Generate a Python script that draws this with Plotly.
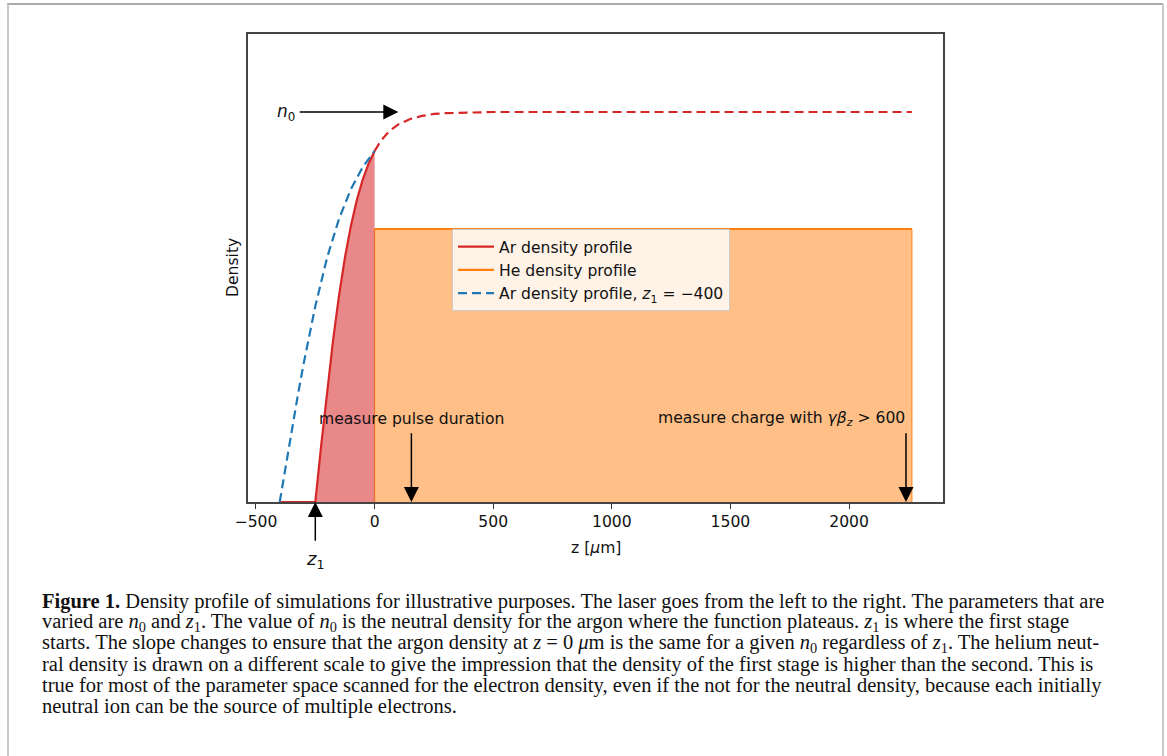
import plotly.graph_objects as go

# ---------------- data ----------------
z_ar = [-400, -250, -225, -200, -175, -150, -125, -100, -75, -50, -25, 0]
n_ar = [0, 0, 0.146, 0.286, 0.415, 0.529, 0.627, 0.708, 0.774, 0.827, 0.868, 0.900]

z_ar_plateau = [0, 25, 50, 75, 100, 150, 200, 250, 300, 400, 500, 700, 2265]
n_ar_plateau = [0.900, 0.925, 0.943, 0.957, 0.968, 0.982, 0.990, 0.995, 0.997, 0.999, 1.0, 1.0, 1.0]

z_ar400 = [-400, -375, -350, -325, -300, -250, -200, -150, -100, -50, 0]
n_ar400 = [0, 0.092, 0.182, 0.269, 0.352, 0.502, 0.627, 0.726, 0.802, 0.859, 0.900]

z_he = [0, 0, 2265, 2265]
n_he = [0, 0.7, 0.7, 0]

n0_level = 1.0
z1_value = -250
pulse_z = 155
charge_z = 2240

x_ticks = [-500, 0, 500, 1000, 1500, 2000]

# ---------------- layout geometry ----------------
W, H = 1167, 756
L, R, T, B = 248, 943, 34, 502
PW, PH = R - L, B - T


def px(xp):
    return (xp - L) / PW


def py(yp):
    return (B - yp) / PH


RED = "#d62728"
ORANGE = "#ff7f0e"
BLUE = "#1f77b4"
TXT = "#111111"
FONT = "DejaVu Sans"
FS = 15.6
DASH = "9px,5px"

fig = go.Figure()

# fills
fig.add_trace(go.Scatter(x=z_he, y=n_he, mode="lines", fill="toself",
                         fillcolor="rgba(255,127,14,0.5)",
                         line=dict(color=ORANGE, width=1), showlegend=False,
                         hoverinfo="skip"))
fig.add_trace(go.Scatter(x=z_ar[1:], y=n_ar[1:], mode="lines", fill="tozeroy",
                         fillcolor="rgba(214,39,40,0.55)",
                         line=dict(width=0), showlegend=False, hoverinfo="skip"))

# lines
fig.add_trace(go.Scatter(x=z_ar, y=n_ar, mode="lines", name="Ar density profile",
                         line=dict(color=RED, width=2.2)))
fig.add_trace(go.Scatter(x=z_he[1:3], y=n_he[1:3], mode="lines", name="He density profile",
                         line=dict(color=ORANGE, width=2.2)))
fig.add_trace(go.Scatter(x=z_ar400, y=n_ar400, mode="lines",
                         name="Ar density profile, <i>z</i><sub>1</sub> = −400",
                         line=dict(color=BLUE, width=2.2, dash=DASH)))
fig.add_trace(go.Scatter(x=z_ar_plateau, y=n_ar_plateau, mode="lines", showlegend=False,
                         line=dict(color=RED, width=2.2, dash=DASH)))

ann = []
arrow_style = dict(showarrow=True, arrowhead=2, arrowsize=2.0, arrowwidth=1.5,
                   arrowcolor="black", standoff=0, startstandoff=0, text="",
                   axref="x", ayref="y", xref="x", yref="y")
# n0 arrow
ann.append(dict(x=100, y=n0_level, ax=-322, ay=n0_level, **arrow_style))
ann.append(dict(x=-326, y=n0_level, xref="x", yref="y", text="<i>n</i><sub>0</sub>",
                showarrow=False, xanchor="right", yanchor="middle",
                font=dict(family=FONT, size=17, color=TXT)))
# z1 arrow
ann.append(dict(x=z1_value, y=0, ax=z1_value, ay=-0.103, **arrow_style))
ann.append(dict(x=z1_value, y=py(560), xref="x", yref="paper", text="<i>z</i><sub>1</sub>",
                showarrow=False, xanchor="center", yanchor="middle",
                font=dict(family=FONT, size=18, color=TXT)))
# pulse duration
ann.append(dict(x=pulse_z, y=0, ax=pulse_z, ay=0.18, **arrow_style))
ann.append(dict(x=pulse_z, y=0.213, xref="x", yref="y", text="measure pulse duration",
                showarrow=False, xanchor="center", yanchor="middle",
                font=dict(family=FONT, size=FS, color=TXT)))
# charge
ann.append(dict(x=charge_z, y=0, ax=charge_z, ay=0.18, **arrow_style))
ann.append(dict(x=charge_z + 5, y=0.213, xref="x", yref="y",
                text="measure charge with <i>γβ</i><sub><i>z</i></sub> > 600",
                showarrow=False, xanchor="right", yanchor="middle",
                font=dict(family=FONT, size=FS, color=TXT)))

# axis titles
ann.append(dict(x=px(233), y=0.5, xref="paper", yref="paper", text="Density",
                textangle=-90, showarrow=False, xanchor="center", yanchor="middle",
                font=dict(family=FONT, size=FS, color=TXT)))
ann.append(dict(x=0.5, y=py(548), xref="paper", yref="paper", text="z [<i>μ</i>m]",
                showarrow=False, xanchor="center", yanchor="middle",
                font=dict(family=FONT, size=FS, color=TXT)))

# caption
caption = [
    "<b>Figure 1.</b> Density profile of simulations for illustrative purposes. The laser goes from the left to the right. The parameters that are",
    "varied are <i>n</i><sub>0</sub> and <i>z</i><sub>1</sub>. The value of <i>n</i><sub>0</sub> is the neutral density for the argon where the function plateaus. <i>z</i><sub>1</sub> is where the first stage",
    "starts. The slope changes to ensure that the argon density at <i>z</i> = 0 <i>μ</i>m is the same for a given <i>n</i><sub>0</sub> regardless of <i>z</i><sub>1</sub>. The helium neut-",
    "ral density is drawn on a different scale to give the impression that the density of the first stage is higher than the second. This is",
    "true for most of the parameter space scanned for the electron density, even if the not for the neutral density, because each initially",
    "neutral ion can be the source of multiple electrons.",
]
for i, line in enumerate(caption):
    ann.append(dict(x=px(40), y=py(601 + 21 * i), xref="paper", yref="paper", text=line,
                    showarrow=False, xanchor="left", yanchor="middle", align="left",
                    font=dict(family="Liberation Serif", size=20.5, color="#111111")))

shapes = [
    dict(type="line", xref="paper", yref="paper", x0=px(7), x1=px(1163), y0=py(4), y1=py(4),
         line=dict(color="#8c8c8c", width=1.5)),
    dict(type="line", xref="paper", yref="paper", x0=px(8), x1=px(8), y0=py(4), y1=py(756),
         line=dict(color="#c8c8c8", width=2)),
    dict(type="line", xref="paper", yref="paper", x0=px(1163), x1=px(1163), y0=py(4), y1=py(756),
         line=dict(color="#c8c8c8", width=2)),
]

fig.update_layout(
    width=W, height=H,
    margin=dict(l=L, r=W - R, t=T, b=H - B, pad=0),
    paper_bgcolor="white", plot_bgcolor="white",
    font=dict(family=FONT, size=FS, color=TXT),
    showlegend=True,
    legend=dict(x=px(452), y=py(229), xanchor="left", yanchor="top",
                bgcolor="rgba(255,255,255,0.8)", bordercolor="#cccccc", borderwidth=1,
                font=dict(family=FONT, size=FS, color=TXT), itemwidth=36),
    annotations=ann,
    shapes=shapes,
)
fig.update_xaxes(range=[-533.7, 2396], tickvals=x_ticks, ticktext=[str(t).replace("-", "−") for t in x_ticks],
                 ticks="outside", ticklen=5, tickwidth=1.2, tickcolor="#333",
                 showline=True, linecolor="#444", linewidth=1.5, mirror=True,
                 showgrid=False, zeroline=False,
                 tickfont=dict(family=FONT, size=FS, color=TXT))
fig.update_yaxes(range=[0, 1.2], showticklabels=False, ticks="",
                 showline=True, linecolor="#444", linewidth=1.5, mirror=True,
                 showgrid=False, zeroline=False)

fig.write_html("out.html")
